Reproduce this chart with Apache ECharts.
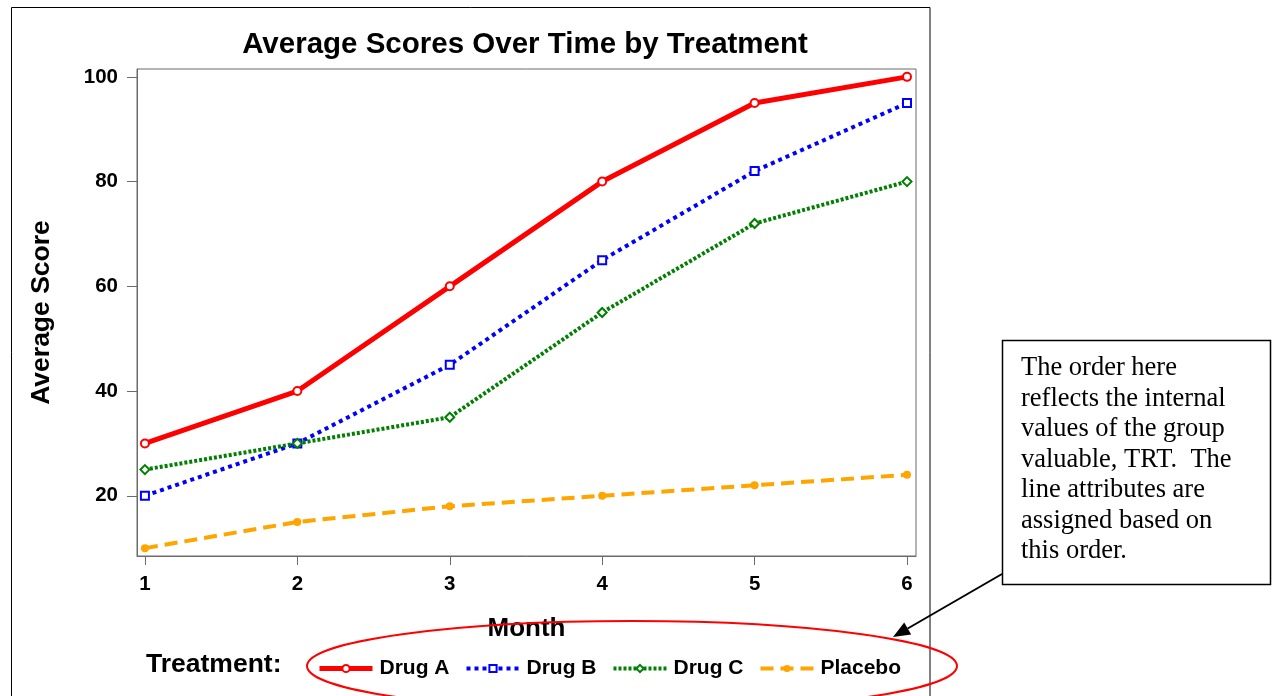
<!DOCTYPE html>
<html>
<head>
<meta charset="utf-8">
<script src="https://cdn.jsdelivr.net/npm/echarts@6/dist/echarts.min.js"></script>
<style>
html,body{margin:0;padding:0;background:#fff;}
#chart{width:1272px;height:696px;}
</style>
</head>
<body>
<div id="chart"></div>
<script>
const months = [1, 2, 3, 4, 5, 6];
const drugA = [30, 40, 60, 80, 95, 100];
const drugB = [20, 30, 45, 65, 82, 95];
const drugC = [25, 30, 35, 55, 72, 80];
const placebo = [10, 15, 18, 20, 22, 24];
const yTicks = [20, 40, 60, 80, 100];
const seriesNames = ['Drug A', 'Drug B', 'Drug C', 'Placebo'];
const noteLines = ['The order here', 'reflects the internal', 'values of the group', 'valuable, TRT.  The', 'line attributes are', 'assigned based on', 'this order.'];

const pairs = arr => months.map((m, i) => [m, arr[i]]);
const FONT = '"Liberation Sans", Arial, sans-serif';

const chart = echarts.init(document.getElementById('chart'), null, {renderer: 'canvas'});

// arrow geometry
const ax0 = 1002, ay0 = 574, ax1 = 893, ay1 = 637;
const dx = ax1 - ax0, dy = ay1 - ay0, L = Math.hypot(dx, dy);
const ux = dx / L, uy = dy / L, nx = -uy, ny = ux;
const hl = 17, hw = 7;
const bx = ax1 - hl * ux, by = ay1 - hl * uy;

const styles = [
  {color: '#ff0000', width: 5, type: 'solid', symbol: 'emptyCircle', size: 8},
  {color: '#0000ff', width: 4, type: [4, 4], symbol: 'emptyRect', size: 8},
  {color: '#008000', width: 4, type: [3, 2], symbol: 'emptyDiamond', size: 9},
  {color: '#ffa500', width: 4, type: [13, 7], symbol: 'circle', size: 8}
];
const values = [drugA, drugB, drugC, placebo];

chart.setOption({
  animation: false,
  backgroundColor: '#fff',
  title: {
    text: 'Average Scores Over Time by Treatment',
    left: 520, top: 25, textAlign: 'center',
    textStyle: {fontFamily: FONT, fontWeight: 'bold', fontSize: 29.5, color: '#000'}
  },
  grid: {left: 137, right: 356, top: 69, bottom: 140, show: true, borderColor: '#6b6b6b', borderWidth: 1, containLabel: false},
  legend: {
    data: seriesNames.map((n, i) => ({
      name: n,
      lineStyle: {width: styles[i].width, type: styles[i].type, color: styles[i].color},
      itemStyle: {color: styles[i].color}
    })),
    left: 317, top: 658, padding: 0,
    itemWidth: 53, itemHeight: 9, itemGap: 15,
    textStyle: {fontFamily: FONT, fontWeight: 'bold', fontSize: 21, color: '#000', padding: [0, 0, 0, 2]},
    selectedMode: false
  },
  xAxis: {
    type: 'value', min: 0.948, max: 6.059,
    name: 'Month', nameLocation: 'middle', nameGap: 60,
    nameTextStyle: {fontFamily: FONT, fontWeight: 'bold', fontSize: 26, color: '#000'},
    axisLine: {show: true, lineStyle: {color: '#6b6b6b', width: 1}},
    axisTick: {show: true, length: 9, customValues: months, lineStyle: {color: '#6b6b6b'}},
    axisLabel: {customValues: months, margin: 18, fontFamily: FONT, fontWeight: 'bold', fontSize: 20.5, color: '#000'},
    splitLine: {show: false}
  },
  yAxis: {
    type: 'value', min: 8.5, max: 101.5,
    name: 'Average Score', nameLocation: 'middle', nameGap: 82, nameRotate: 90,
    nameTextStyle: {fontFamily: FONT, fontWeight: 'bold', fontSize: 26.5, color: '#000'},
    axisLine: {show: true, lineStyle: {color: '#6b6b6b', width: 1}},
    axisTick: {show: true, length: 10, customValues: yTicks, lineStyle: {color: '#6b6b6b'}},
    axisLabel: {customValues: yTicks, margin: 19, fontFamily: FONT, fontWeight: 'bold', fontSize: 20.5, color: '#000'},
    splitLine: {show: false}
  },
  series: seriesNames.map((n, i) => ({
    name: n, type: 'line', data: pairs(values[i]),
    symbol: styles[i].symbol, symbolSize: styles[i].size,
    lineStyle: {color: styles[i].color, width: styles[i].width, type: styles[i].type},
    itemStyle: {color: styles[i].color, borderWidth: 1.2}
  })),
  graphic: [
    {type: 'rect', shape: {x: 11.5, y: 7.5, width: 918.5, height: 700}, style: {fill: null, stroke: '#000', lineWidth: 1}, silent: true},
    {type: 'text', left: 146, top: 651, style: {text: 'Treatment:', font: 'bold 26.5px ' + FONT, fill: '#000'}},
    {type: 'ellipse', shape: {cx: 632, cy: 666, rx: 325, ry: 45}, style: {fill: null, stroke: '#ff0000', lineWidth: 2}, silent: true, z: 100},
    {type: 'rect', shape: {x: 1002.5, y: 340.5, width: 268, height: 244}, style: {fill: '#fff', stroke: '#000', lineWidth: 1.5}, silent: true},
    {type: 'text', x: 1021, y: 353, style: {text: noteLines.join('\n'), font: '26.5px "Liberation Serif", "Times New Roman", serif', lineHeight: 30.5, fill: '#000'}},
    {type: 'line', shape: {x1: ax0, y1: ay0, x2: bx, y2: by}, style: {stroke: '#000', lineWidth: 2}, silent: true},
    {type: 'polygon', shape: {points: [[ax1, ay1], [bx + hw * nx, by + hw * ny], [bx - hw * nx, by - hw * ny]]}, style: {fill: '#000'}, silent: true}
  ]
});
</script>
</body>
</html>
